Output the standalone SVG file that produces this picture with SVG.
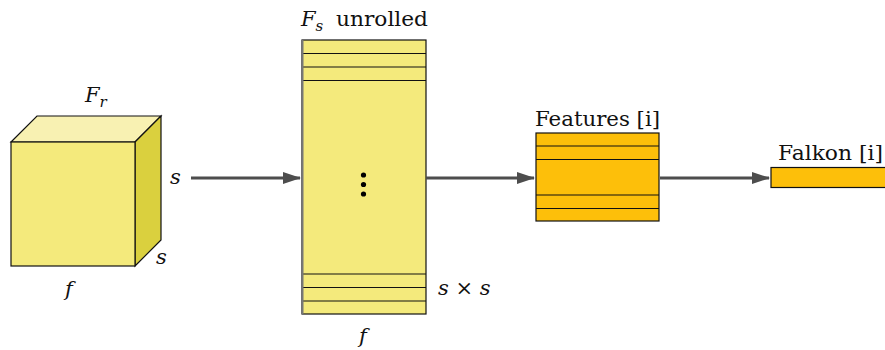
<svg xmlns="http://www.w3.org/2000/svg" width="885" height="350" viewBox="0 0 885 350">
<style>
.t{font-family:'DejaVu Serif',serif;font-size:21px;fill:#111}
.m{font-style:italic}
.e{stroke:#111;stroke-width:1.2}
.y{fill:#f4ea7c}
.o{fill:#fdbf0a}
.c{stroke:#4d4d4d;stroke-width:3;fill:none;marker-end:url(#ah)}
</style>
<defs>
<marker id="ah" viewBox="0 0 18 12" refX="17" refY="6" markerWidth="18" markerHeight="12" markerUnits="userSpaceOnUse" orient="auto">
<path d="M0,0 L18,6 L0,12 Z" fill="#4d4d4d"/>
</marker>
</defs>
<g id="cube">
<polygon points="11,142 37,116 161,116 135,142" fill="#f8f1b2" class="e"/>
<polygon points="135,142 161,116 161,240 135,266" fill="#dad03e" class="e"/>
<rect x="11" y="142" width="124" height="124" class="y e"/>
<text x="85" y="102" class="t m">F<tspan font-size="15" dy="5">r</tspan></text>
<text x="170" y="184" class="t m">s</text>
<text x="156" y="264" class="t m">s</text>
<text x="65" y="296" class="t m">f</text>
</g>
<g id="unrolled">
<rect x="302" y="40" width="124" height="274" class="y e"/>
<line x1="302" y1="53.5" x2="426" y2="53.5" class="e"/>
<line x1="302" y1="67" x2="426" y2="67" class="e"/>
<line x1="302" y1="80.5" x2="426" y2="80.5" class="e"/>
<line x1="302" y1="274" x2="426" y2="274" class="e"/>
<line x1="302" y1="287.5" x2="426" y2="287.5" class="e"/>
<line x1="302" y1="301" x2="426" y2="301" class="e"/>
<line x1="302.5" y1="40" x2="302.5" y2="314" stroke="#777" stroke-width="2"/>
<circle cx="363.5" cy="175" r="2.6" fill="#000"/>
<circle cx="363.5" cy="184.5" r="2.6" fill="#000"/>
<circle cx="363.5" cy="194" r="2.6" fill="#000"/>
<text x="301" y="26" class="t m">F<tspan font-size="15" dy="5">s</tspan></text>
<text x="336" y="26" class="t" textLength="92" lengthAdjust="spacingAndGlyphs">unrolled</text>
<text x="438" y="295" class="t"><tspan class="m">s</tspan> × <tspan class="m">s</tspan></text>
<text x="359" y="343" class="t m">f</text>
</g>
<g id="features">
<rect x="536" y="133" width="123" height="88" class="o e"/>
<line x1="536" y1="146" x2="659" y2="146" class="e"/>
<line x1="536" y1="159.5" x2="659" y2="159.5" class="e"/>
<line x1="536" y1="195" x2="659" y2="195" class="e"/>
<line x1="536" y1="208.5" x2="659" y2="208.5" class="e"/>
<text x="535" y="126" class="t" textLength="125" lengthAdjust="spacingAndGlyphs">Features [i]</text>
</g>
<g id="falkon">
<rect x="771" y="167.5" width="120" height="20" class="o e"/>
<text x="778" y="160" class="t" textLength="105" lengthAdjust="spacingAndGlyphs">Falkon [i]</text>
</g>
<g id="connectors">
<line x1="191" y1="178" x2="300" y2="178" class="c"/>
<line x1="426" y1="178" x2="534" y2="178" class="c"/>
<line x1="660" y1="178" x2="769" y2="178" class="c"/>
</g>
</svg>
